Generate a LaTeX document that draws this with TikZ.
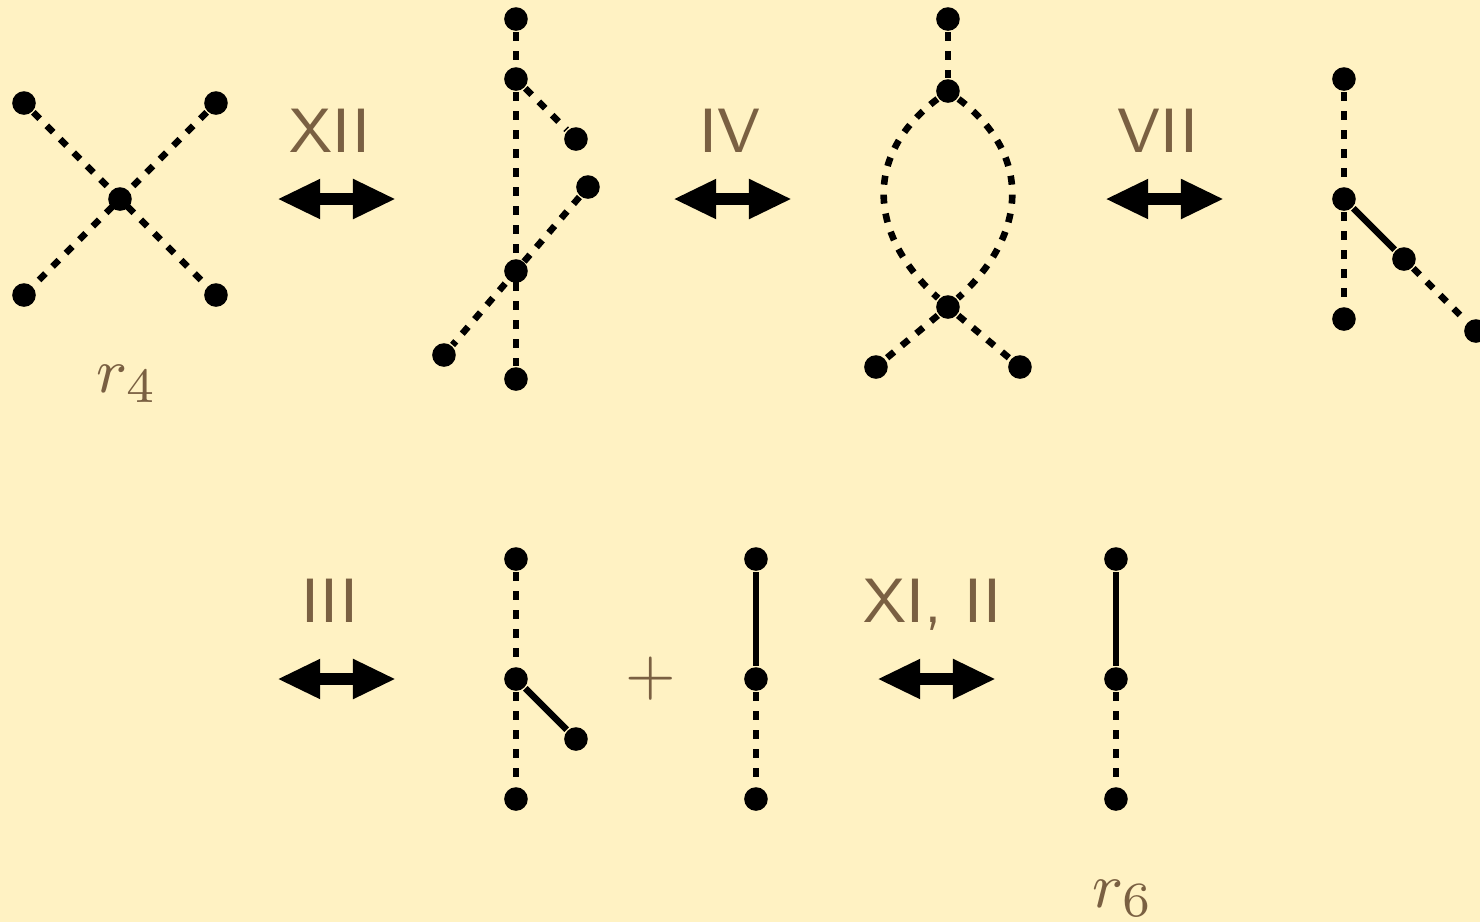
\documentclass[tikz,border=0pt]{standalone}
\usepackage{tikz}
\usetikzlibrary{arrows.meta}
\definecolor{bg}{RGB}{255,242,195}
\definecolor{brn}{RGB}{122,96,66}

\begin{document}
\begin{tikzpicture}[
  x=3mm, y=3mm,
  dot/.style={circle, fill, inner sep=0pt, minimum size=1.18mm},
  dl/.style={line width=0.33mm, dash pattern=on 0.45mm off 0.5mm},
  sl/.style={line width=0.33mm},
  move/.style={{Triangle[length=2.15mm,width=1.85mm]}-{Triangle[length=2.15mm,width=1.85mm]}, line width=0.6mm},
  lbl/.style={text=brn, font=\sffamily\fontsize{8.9}{11}\selectfont, anchor=base},
  nm/.style={text=brn, font=\fontsize{9.3}{11}\selectfont, anchor=base}
]
  \path[use as bounding box, fill=bg] (-2,3.3167) rectangle (22.667,-12.05);
  % r4
  \node[dot] (a1) at (-1.6,1.6) {};
  \node[dot] (a2) at (1.6,1.6) {};
  \node[dot] (a3) at (-1.6,-1.6) {};
  \node[dot] (a4) at (1.6,-1.6) {};
  \node[dot] (a0) at (0,0) {};
  \draw[dl] (a1) -- (a4);
  \draw[dl] (a2) -- (a3);
  \node[nm] (r4) at (0.12,-3.22) {$r_4$};
  % XII
  \coordinate (m1l) at (2.62,0);
  \coordinate (m1r) at (4.6,0);
  \draw[move] (m1l) -- (m1r);
  \node[lbl] (t1) at (3.5,0.78) {XII};
  % second
  \node[dot] (b1) at (6.6,3) {};
  \node[dot] (b2) at (6.6,2) {};
  \node[dot] (b3) at (7.6,1) {};
  \node[dot] (b4) at (7.8,0.2) {};
  \node[dot] (b5) at (6.6,-1.2) {};
  \node[dot] (b6) at (5.4,-2.6) {};
  \node[dot] (b7) at (6.6,-3) {};
  \draw[dl] (b1) -- (b2);
  \draw[dl] (b2) -- (b7);
  \draw[dl] (b2) -- (b3);
  \draw[dl] (b4) -- (b6);
  % IV
  \coordinate (m2l) at (9.22,0);
  \coordinate (m2r) at (11.2,0);
  \draw[move] (m2l) -- (m2r);
  \node[lbl] (t2) at (10.17,0.78) {IV};
  % loop
  \node[dot] (c1) at (13.8,3) {};
  \node[dot] (c2) at (13.8,1.8) {};
  \node[dot] (c3) at (13.8,-1.8) {};
  \node[dot] (c4) at (12.6,-2.8) {};
  \node[dot] (c5) at (15,-2.8) {};
  \draw[dl] (c1) -- (c2);
  \draw[dl] (c2) to[out=217, in=138, looseness=1.2] (c3);
  \draw[dl] (c2) to[out=-37, in=42, looseness=1.2] (c3);
  \draw[dl] (c3) -- (c4);
  \draw[dl] (c3) -- (c5);
  % VII
  \coordinate (m3l) at (16.42,0);
  \coordinate (m3r) at (18.4,0);
  \draw[move] (m3l) -- (m3r);
  \node[lbl] (t3) at (17.3,0.78) {VII};
  % fourth
  \node[dot] (d1) at (20.4,2) {};
  \node[dot] (d2) at (20.4,0) {};
  \node[dot] (d3) at (20.4,-2) {};
  \node[dot] (d4) at (21.4,-1) {};
  \node[dot] (d5) at (22.6,-2.2) {};
  \draw[dl] (d1) -- (d2);
  \draw[dl] (d2) -- (d3);
  \draw[sl] (d2) -- (d4);
  \draw[dl] (d4) -- (d5);
  % III
  \coordinate (m4l) at (2.62,-8);
  \coordinate (m4r) at (4.6,-8);
  \draw[move] (m4l) -- (m4r);
  \node[lbl] (t4) at (3.5,-7.05) {III};
  \node[dot] (e1) at (6.6,-6) {};
  \node[dot] (e2) at (6.6,-8) {};
  \node[dot] (e3) at (6.6,-10) {};
  \node[dot] (e4) at (7.6,-9) {};
  \draw[dl] (e1) -- (e2);
  \draw[dl] (e2) -- (e3);
  \draw[sl] (e2) -- (e4);
  \node[text=brn, font=\fontsize{9.3}{11}\selectfont] (plus) at (8.85,-8) {$+$};
  \node[dot] (f1) at (10.6,-6) {};
  \node[dot] (f2) at (10.6,-8) {};
  \node[dot] (f3) at (10.6,-10) {};
  \draw[sl] (f1) -- (f2);
  \draw[dl] (f2) -- (f3);
  % XI, II
  \coordinate (m5l) at (12.62,-8);
  \coordinate (m5r) at (14.6,-8);
  \draw[move] (m5l) -- (m5r);
  \node[lbl] (t5) at (13.55,-7.05) {XI, II};
  \node[dot] (g1) at (16.6,-6) {};
  \node[dot] (g2) at (16.6,-8) {};
  \node[dot] (g3) at (16.6,-10) {};
  \draw[sl] (g1) -- (g2);
  \draw[dl] (g2) -- (g3);
  \node[nm] (r6) at (16.72,-11.8) {$r_6$};
\end{tikzpicture}
\end{document}
